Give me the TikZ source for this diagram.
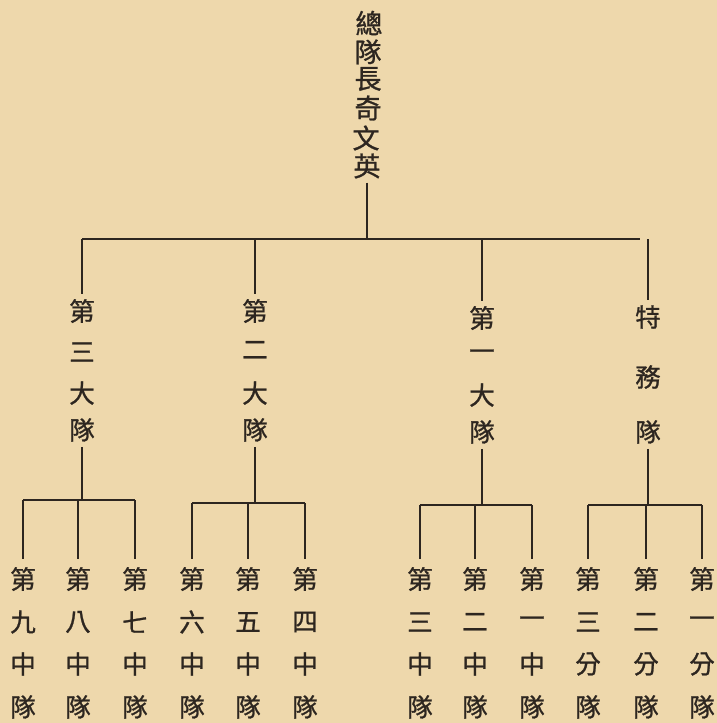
\documentclass[tikz,border=0pt]{standalone}
\usepackage{fontspec}
\newfontfamily\cjk[FakeBold=1.0]{Noto Sans CJK TC}
\definecolor{paper}{RGB}{238,216,172}
\definecolor{ink}{RGB}{45,38,32}
\begin{document}
\begin{tikzpicture}[x=1pt,y=-1pt,
  ch/.style={font=\cjk\fontsize{25.5}{25.5}\selectfont, text=ink, inner sep=0pt, anchor=center},
  topch/.style={font=\cjk\fontsize{27}{27}\selectfont, text=ink, inner sep=0pt, anchor=center},
  ln/.style={draw=ink, line width=1.5pt},
  barln/.style={draw=ink, line width=2.8pt}]
\fill[paper] (0,0) rectangle (717,723);
\useasboundingbox (0,0) rectangle (717,723);

% top title
\node[topch] (t1) at (369,23) {總};
\node[topch] (t2) at (368,52) {隊};
\node[topch] (t3) at (368,79) {長};
\node[topch] (t4) at (368,108) {奇};
\node[topch] (t5) at (366,138) {文};
\node[topch] (t6) at (367,166) {英};

% main bar
\coordinate (mbL) at (82,239);
\coordinate (mbR) at (640,239);
\draw[ln] ([yshift=-4pt]t6.south) -- (t6.south |- mbL);
\draw[barln] (mbL) -- (mbR);

% second level
\node[ch] (a1) at (82,311) {第};
\node[ch] (a2) at (82,352) {三};
\node[ch] (a3) at (82,393) {大};
\node[ch] (a4) at (82,430) {隊};

\node[ch] (b1) at (255,311) {第};
\node[ch] (b2) at (255,350) {二};
\node[ch] (b3) at (255,393) {大};
\node[ch] (b4) at (255,430) {隊};

\node[ch] (c1) at (482,318) {第};
\node[ch] (c2) at (482,355) {一};
\node[ch] (c3) at (482,395) {大};
\node[ch] (c4) at (482,432) {隊};

\node[ch] (d1) at (648,317) {特};
\node[ch] (d2) at (648,377) {務};
\node[ch] (d3) at (648,432) {隊};

\foreach \n in {a1,b1,c1,d1}{
  \draw[ln] (\n.north |- mbL) -- ([yshift=5pt]\n.north);
}

% leaves
\foreach \i/\x/\a/\b in {1/23/九/中,2/78/八/中,3/135/七/中,4/192/六/中,5/248/五/中,6/305/四/中,
                         7/420/三/中,8/475/二/中,9/532/一/中,10/588/三/分,11/646/二/分,12/702/一/分}{
  \node[ch] (l\i-1) at (\x,579) {第};
  \node[ch] (l\i-2) at (\x,622) {\a};
  \node[ch] (l\i-3) at (\x,664) {\b};
  \node[ch] (l\i-4) at (\x,707) {隊};
}

% sub bars
\foreach \p/\y/\f/\m/\l in {a4/500/1/2/3, b4/503/4/5/6, c4/505/7/8/9, d3/505/10/11/12}{
  \coordinate (s\p) at (0,\y);
  \draw[ln] ([yshift=-5pt]\p.south) -- (\p.south |- s\p);
  \draw[barln] (l\f-1.north |- s\p) -- (l\l-1.north |- s\p);
  \foreach \k in {\f,\m,\l}{
    \draw[ln] (l\k-1.north |- s\p) -- ([yshift=8pt]l\k-1.north);
  }
}
\end{tikzpicture}
\end{document}
